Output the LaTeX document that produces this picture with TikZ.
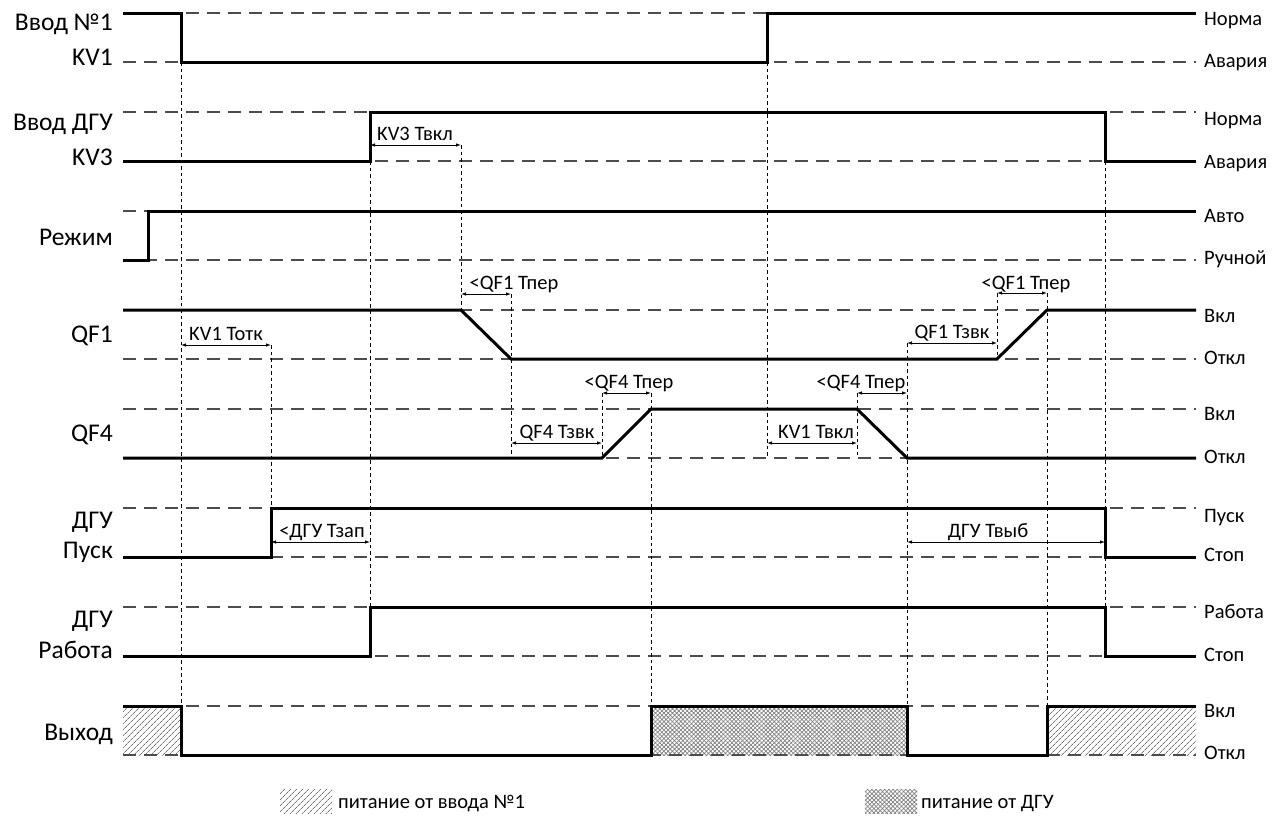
\documentclass[tikz,border=0pt]{standalone}
\usepackage{fontspec}
\setmainfont{Carlito}
\usetikzlibrary{arrows.meta,patterns.meta}
\begin{document}
\begin{tikzpicture}[x=1pt,y=-1pt,
  sig/.style={line width=3pt},
  refl/.style={line width=1.3pt,draw=black!70,dash pattern=on 13pt off 8pt},
  vline/.style={line width=1pt,dash pattern=on 3.5pt off 3pt},
  dim/.style={line width=0.8pt,{Latex[length=5pt,width=3.5pt]}-{Latex[length=5pt,width=3.5pt]}},
  lbl/.style={font=\fontsize{25.5}{28}\selectfont,anchor=base east,inner sep=0pt},
  st/.style={font=\fontsize{20.5}{22}\selectfont,anchor=base west,inner sep=0pt},
  ann/.style={font=\fontsize{20.5}{22}\selectfont,anchor=base,inner sep=0pt},
  hatchA/.style={pattern={Lines[angle=45,distance=4pt,line width=0.7pt]},pattern color=black!55},
  hatchB/.style={pattern={Hatch[angle=45,distance=3pt,line width=0.7pt]},pattern color=black!50}]
\useasboundingbox (0,0) rectangle (1280,817);

% hatched output regions
\fill[hatchA] (123,706) rectangle (181,755);
\fill[hatchB] (651,706) rectangle (907,755);
\fill[hatchA] (1047,706) rectangle (1196,755);

% reference levels
\foreach \a/\b in {13/62,112/161,211/260,310/359,409/458,508/557,607/656,706/755}{
  \draw[refl] (123,\a) -- (1196,\a);
  \draw[refl] (123,\b) -- (1196,\b);
}

% vertical time markers
\draw[vline] (181,62) -- (181,706);
\draw[vline] (271,345) -- (271,557);
\draw[vline] (370,161) -- (370,607);
\draw[vline] (461,145) -- (461,310);
\draw[vline] (511,294) -- (511,458);
\draw[vline] (602,393) -- (602,458);
\draw[vline] (651,393) -- (651,706);
\draw[vline] (767,62) -- (767,458);
\draw[vline] (857,393) -- (857,458);
\draw[vline] (907,343) -- (907,706);
\draw[vline] (997,293) -- (997,359);
\draw[vline] (1047,293) -- (1047,706);
\draw[vline] (1105,161) -- (1105,607);

% signals
\draw[sig] (123,13) -- (181,13) -- (181,62) -- (767,62) -- (767,13) -- (1196,13);
\draw[sig] (123,161) -- (370,161) -- (370,112) -- (1105,112) -- (1105,161) -- (1196,161);
\draw[sig] (123,260) -- (148,260) -- (148,211) -- (1196,211);
\draw[sig] (123,310) -- (461,310) -- (511,359) -- (997,359) -- (1047,310) -- (1196,310);
\draw[sig] (123,458) -- (602,458) -- (651,409) -- (857,409) -- (907,458) -- (1196,458);
\draw[sig] (123,557) -- (271,557) -- (271,508) -- (1105,508) -- (1105,557) -- (1196,557);
\draw[sig] (123,656) -- (370,656) -- (370,607) -- (1105,607) -- (1105,656) -- (1196,656);
\draw[sig] (123,706) -- (181,706) -- (181,755) -- (651,755) -- (651,706) -- (907,706) -- (907,755) -- (1047,755) -- (1047,706) -- (1196,706);

% dimension arrows
\draw[dim] (370,145) -- (461,145);
\node[ann] (a1) at (415,140) {KV3 Твкл};
\draw[dim] (461,294) -- (511,294);
\node[ann] (a2) at (514,289) {<QF1 Тпер};
\draw[dim] (181,345) -- (271,345);
\node[ann] (a3) at (226,340) {KV1 Тотк};
\draw[dim] (511,443) -- (602,443);
\node[ann] (a4) at (557,438) {QF4 Тзвк};
\draw[dim] (602,393) -- (651,393);
\node[ann] (a5) at (629,388) {<QF4 Тпер};
\draw[dim] (767,443) -- (857,443);
\node[ann] (a6) at (816,438) {KV1 Твкл};
\draw[dim] (857,393) -- (907,393);
\node[ann] (a7) at (861,388) {<QF4 Тпер};
\draw[dim] (907,343) -- (997,343);
\node[ann] (a8) at (952,338) {QF1 Тзвк};
\draw[dim] (997,293) -- (1047,293);
\node[ann] (a9) at (1026,289) {<QF1 Тпер};
\draw[dim] (271,542) -- (370,542);
\node[ann] (a10) at (322,537) {<ДГУ Тзап};
\draw[dim] (907,542) -- (1105,542);
\node[ann] (a11) at (988,537) {ДГУ Твыб};

% left labels
\node[lbl] (l1) at (113,30) {Ввод №1};
\node[lbl] (l2) at (113,65) {KV1};
\node[lbl] (l3) at (113,130) {Ввод ДГУ};
\node[lbl] (l4) at (113,165) {KV3};
\node[lbl] (l5) at (113,245) {Режим};
\node[lbl] (l6) at (113,342) {QF1};
\node[lbl] (l7) at (113,441) {QF4};
\node[lbl] (l8) at (113,528) {ДГУ};
\node[lbl] (l9) at (113,558) {Пуск};
\node[lbl] (l10) at (113,627) {ДГУ};
\node[lbl] (l11) at (113,658) {Работа};
\node[lbl] (l12) at (113,740) {Выход};

% right state labels
\node[st] (r1) at (1204,25) {Норма};
\node[st] (r2) at (1204,67) {Авария};
\node[st] (r3) at (1204,125) {Норма};
\node[st] (r4) at (1204,168) {Авария};
\node[st] (r5) at (1204,222) {Авто};
\node[st] (r6) at (1204,264) {Ручной};
\node[st] (r7) at (1204,322) {Вкл};
\node[st] (r8) at (1204,364) {Откл};
\node[st] (r9) at (1204,420) {Вкл};
\node[st] (r10) at (1204,463) {Откл};
\node[st] (r11) at (1204,522) {Пуск};
\node[st] (r12) at (1204,561) {Стоп};
\node[st] (r13) at (1204,618) {Работа};
\node[st] (r14) at (1204,661) {Стоп};
\node[st] (r15) at (1204,717) {Вкл};
\node[st] (r16) at (1204,759) {Откл};

% legend
\fill[hatchA] (280,789) rectangle (332,813);
\node[st] (g1) at (338,808) {питание от ввода №1};
\fill[hatchB] (865,789) rectangle (917,813);
\node[st] (g2) at (921,808) {питание от ДГУ};
\end{tikzpicture}
\end{document}
